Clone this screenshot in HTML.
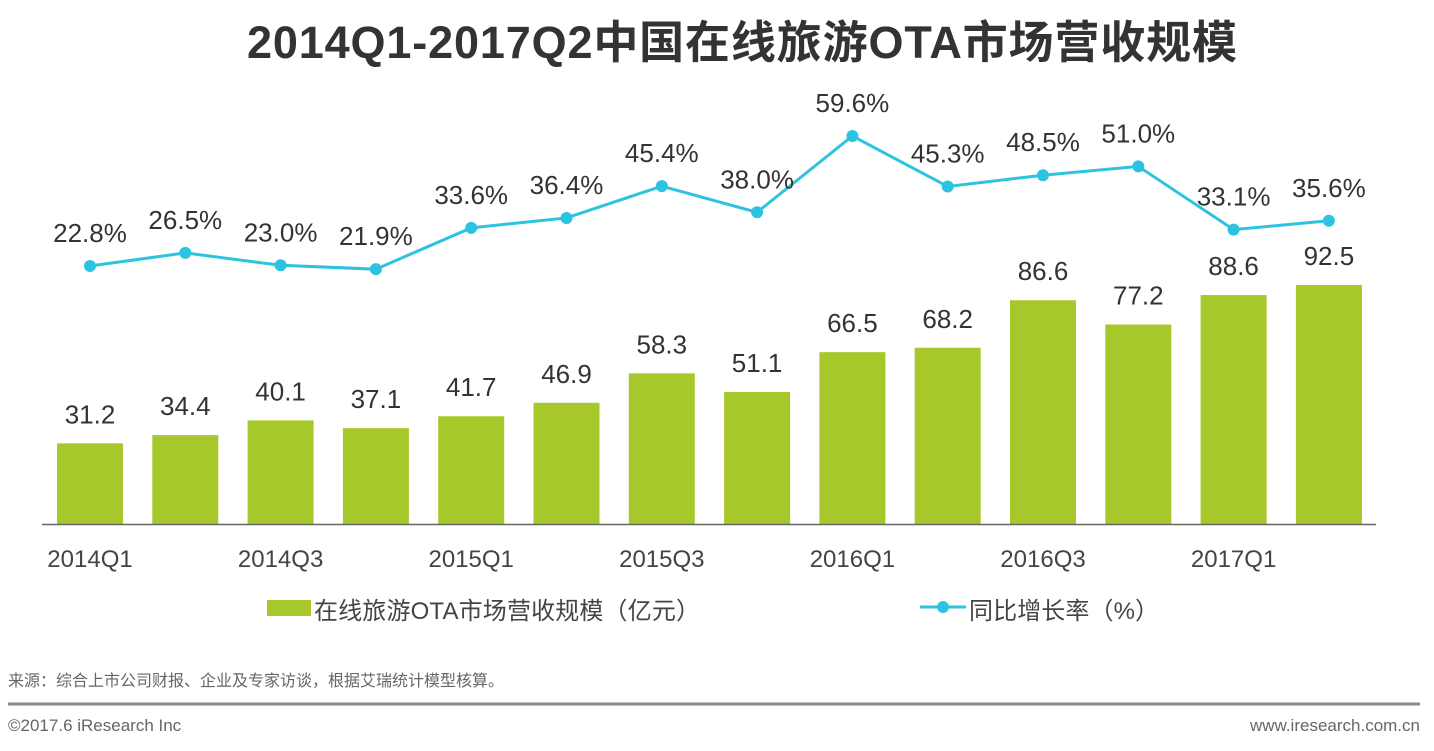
<!DOCTYPE html>
<html><head><meta charset="utf-8"><style>
body{margin:0;background:#fff;width:1434px;height:746px;overflow:hidden;font-family:"Liberation Sans","Noto Sans CJK SC",sans-serif;}
</style></head><body>
<svg id="c" width="1434" height="746" xmlns="http://www.w3.org/2000/svg" font-family="Liberation Sans, Noto Sans CJK SC, sans-serif">
<text x="742" y="58" text-anchor="middle" font-size="45" font-weight="bold" fill="#333" textLength="990">2014Q1-2017Q2中国在线旅游OTA市场营收规模</text>
<g id="bars"></g><g id="line"></g><g id="xl"></g>
<line x1="42" y1="524.5" x2="1376" y2="524.5" stroke="#666" stroke-width="1.5"/>
<rect x="267" y="600" width="44" height="16" fill="#a6c82a"/>
<text x="314" y="619" font-size="24" fill="#444" textLength="386">在线旅游OTA市场营收规模（亿元）</text>
<line x1="920" y1="607" x2="966" y2="607" stroke="#2bc3e0" stroke-width="3"/>
<circle cx="943" cy="607" r="6" fill="#2bc3e0"/>
<text x="969" y="619" font-size="24" fill="#444" textLength="190">同比增长率（%）</text>
<text x="8" y="686" font-size="16" fill="#666">来源：综合上市公司财报、企业及专家访谈，根据艾瑞统计模型核算。</text>
<line x1="8" y1="704" x2="1420" y2="704" stroke="#888" stroke-width="3"/>
<text x="8" y="731" font-size="17" fill="#666">©2017.6 iResearch Inc</text>
<text x="1420" y="731" font-size="17" fill="#666" text-anchor="end">www.iresearch.com.cn</text>
</svg>
<script>
const categories=["2014Q1","2014Q2","2014Q3","2014Q4","2015Q1","2015Q2","2015Q3","2015Q4","2016Q1","2016Q2","2016Q3","2016Q4","2017Q1","2017Q2"];
const revenue=[31.2,34.4,40.1,37.1,41.7,46.9,58.3,51.1,66.5,68.2,86.6,77.2,88.6,92.5];
const growth=[22.8,26.5,23.0,21.9,33.6,36.4,45.4,38.0,59.6,45.3,48.5,51.0,33.1,35.6];
const xTicks=["2014Q1","2014Q3","2015Q1","2015Q3","2016Q1","2016Q3","2017Q1"];
const NS="http://www.w3.org/2000/svg";
const xC=i=>90+i*95.3;
const yB=v=>524-v*2.584;
const yL=v=>266-(v-22.8)*3.533;
function mk(t,a,p){const e=document.createElementNS(NS,t);for(const k in a)e.setAttribute(k,a[k]);p.appendChild(e);return e;}
const gb=document.getElementById('bars'),gl=document.getElementById('line'),gx=document.getElementById('xl');
revenue.forEach((v,i)=>{
 const r=mk('rect',{x:xC(i)-33,y:yB(v),width:66,height:524-yB(v),fill:'#a6c82a'},gb);
 
 
 const t=mk('text',{x:xC(i),y:yB(v)-20,'text-anchor':'middle','font-size':26,fill:'#333'},gb);
 t.textContent=v.toFixed(1);
 
 
});
const pts=growth.map((v,i)=>xC(i)+','+yL(v)).join(' ');
const pl=mk('polyline',{points:pts,fill:'none',stroke:'#2bc3e0','stroke-width':3},gl);


growth.forEach((v,i)=>{
 const c=mk('circle',{cx:xC(i),cy:yL(v),r:6,fill:'#2bc3e0'},gl);
 
 
 const t=mk('text',{x:xC(i),y:yL(v)-24,'text-anchor':'middle','font-size':26,fill:'#333'},gl);
 t.textContent=v.toFixed(1)+'%';
 
 
});
xTicks.forEach(l=>{
 const i=categories.indexOf(l);
 const t=mk('text',{x:xC(i),y:567,'text-anchor':'middle','font-size':24,fill:'#444'},gx);
 t.textContent=l;
 
 
});
</script>
</body></html>
